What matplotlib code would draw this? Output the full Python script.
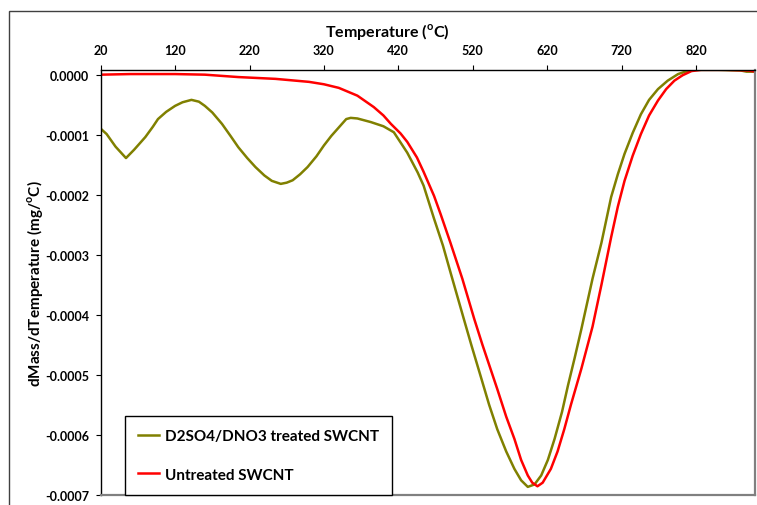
import matplotlib
matplotlib.use("Agg")
import matplotlib.pyplot as plt
from matplotlib.patches import Rectangle
from matplotlib.ticker import FormatStrFormatter

plt.rcParams['font.family'] = ['Lato', 'DejaVu Sans']
plt.rcParams['font.weight'] = 'bold'
plt.rcParams['mathtext.fontset'] = 'custom'
plt.rcParams['mathtext.rm'] = 'Lato:bold'
plt.rcParams['mathtext.bf'] = 'Lato:bold'

# treated sample (temperature in C, dm/dT in 1e-4 mg/C)
treated_t = [20, 28, 40, 54, 65, 80, 90, 97, 108, 120, 130, 142, 152, 160, 170,
             183, 195, 205, 217, 228, 240, 250, 262, 270, 278, 288, 298, 310, 320,
             330, 340, 350, 356, 365, 383, 400, 414, 423, 432, 446, 454, 468, 480,
             490, 508, 518, 531, 542, 553, 565, 576, 585, 594, 603, 612, 621, 630,
             640, 648, 657, 666, 681, 693, 706, 715, 724, 735, 746, 757, 769, 782,
             796, 808, 818, 850, 880, 888, 900]
treated_v = [-0.90, -0.99, -1.20, -1.39, -1.25, -1.04, -0.87, -0.74, -0.62, -0.52,
             -0.46, -0.42, -0.45, -0.52, -0.63, -0.82, -1.03, -1.21, -1.39, -1.54,
             -1.68, -1.77, -1.82, -1.80, -1.76, -1.66, -1.54, -1.36, -1.18, -1.02,
             -0.88, -0.74, -0.72, -0.73, -0.79, -0.86, -0.96, -1.13, -1.30, -1.63,
             -1.85, -2.40, -2.85, -3.29, -4.07, -4.50, -5.04, -5.50, -5.91, -6.28,
             -6.57, -6.76, -6.87, -6.83, -6.68, -6.42, -6.07, -5.62, -5.18, -4.72,
             -4.24, -3.40, -2.80, -2.04, -1.66, -1.32, -0.97, -0.66, -0.42, -0.24,
             -0.10, 0.01, 0.06, 0.08, 0.08, 0.07, 0.05, 0.05]

# untreated sample
untreated_t = [20, 60, 120, 160, 205, 255, 282, 300, 320, 340, 365, 387, 400, 410,
               423, 432, 445, 454, 468, 477, 490, 506, 522, 533, 553, 565, 576, 585,
               594, 600, 607, 614, 625, 634, 643, 652, 659, 666, 681, 693, 706, 715,
               724, 735, 746, 757, 769, 780, 791, 802, 814, 827, 860, 890, 900]
untreated_v = [0.00, 0.01, 0.01, 0.00, -0.04, -0.07, -0.10, -0.12, -0.16, -0.22,
               -0.35, -0.54, -0.68, -0.82, -0.98, -1.12, -1.38, -1.62, -2.02, -2.33,
               -2.80, -3.40, -4.07, -4.50, -5.24, -5.70, -6.07, -6.42, -6.68, -6.80,
               -6.86, -6.80, -6.57, -6.28, -5.91, -5.50, -5.20, -4.90, -4.20, -3.50,
               -2.71, -2.20, -1.77, -1.35, -0.99, -0.68, -0.43, -0.24, -0.10, -0.01,
               0.06, 0.08, 0.08, 0.07, 0.05]

x_ticks = [20, 120, 220, 320, 420, 520, 620, 720, 820]
y_ticks = [0.0, -0.0001, -0.0002, -0.0003, -0.0004, -0.0005, -0.0006, -0.0007]

fig = plt.figure(figsize=(7.57, 5.06), dpi=100)
ax = fig.add_axes([0.133, 0.0204, 0.865, 0.8399])

ax.plot(treated_t, [v * 1e-4 for v in treated_v], color='#808000', lw=1.8,
        label='D2SO4/DNO3 treated SWCNT')
ax.plot(untreated_t, [v * 1e-4 for v in untreated_v], color='#ff0000', lw=1.8,
        label='Untreated SWCNT')

ax.set_xlim(20, 900)
ax.set_ylim(-0.0007, 0.0000083)
ax.set_xticks(x_ticks)
ax.set_yticks(y_ticks)
ax.yaxis.set_major_formatter(FormatStrFormatter('%.4f'))

ax.xaxis.tick_top()
ax.xaxis.set_label_position('top')
ax.tick_params(axis='x', direction='out', length=3.4, width=0.8, pad=6.5,
               labelsize=9, color='black')
ax.tick_params(axis='y', direction='out', length=3.4, width=0.8, pad=5,
               labelsize=9, color='black')

for s in ['top', 'left']:
    ax.spines[s].set_color('black')
    ax.spines[s].set_linewidth(1.0)
for s in ['bottom', 'right']:
    ax.spines[s].set_color('#808080')
    ax.spines[s].set_linewidth(1.6)

ax.set_xlabel(r'Temperature ($^{\mathrm{o}}$C)', fontsize=11.5, fontweight='bold')
ax.xaxis.set_label_coords(0.437, 1.091)
ax.xaxis.label.set_va('center')

ax.set_ylabel(r'dMass/dTemperature (mg/$^{\mathrm{o}}$C)', fontsize=11, fontweight='bold')
ax.yaxis.set_label_coords(-0.101, 0.5)
ax.yaxis.label.set_va('center')

leg = ax.legend(loc='lower left', bbox_to_anchor=(0.037, 0.0), borderaxespad=0,
                fontsize=11, frameon=True, fancybox=False, handlelength=1.4,
                handletextpad=0.35, labelspacing=1.6, borderpad=0.85)
leg.get_frame().set_edgecolor('black')
leg.get_frame().set_linewidth(1.0)
leg.get_frame().set_alpha(1)

# chart-area border
fig.add_artist(Rectangle((9 / 757, -0.1), 1.2, 1.1 - 12 / 506,
                         transform=fig.transFigure, fill=False,
                         edgecolor='#404040', lw=1.0))

fig.savefig('out.png', dpi=100)
